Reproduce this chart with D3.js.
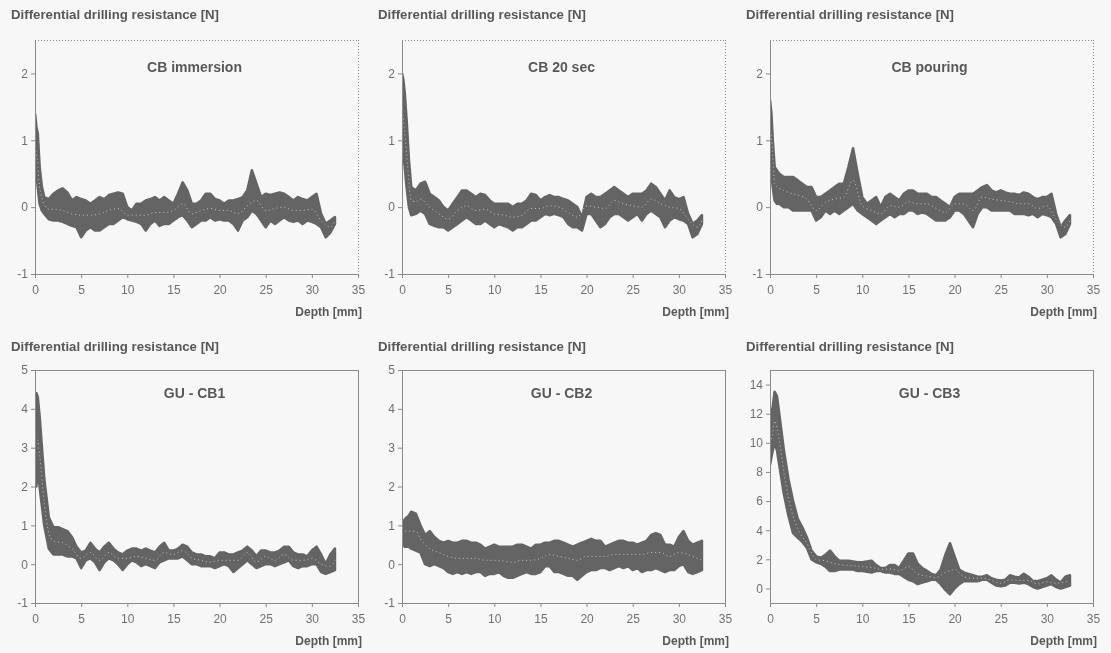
<!DOCTYPE html>
<html>
<head>
<meta charset="utf-8">
<script src="https://cdn.jsdelivr.net/npm/d3@7"></script>
<style>
  html, body { margin: 0; padding: 0; background: #f7f7f7; }
  svg { display: block; font-family: "Liberation Sans", Arial, sans-serif; will-change: transform; -webkit-font-smoothing: antialiased; }
</style>
</head>
<body>
<svg id="chart" width="1111" height="653"></svg>
<script>
// ---------- DATA ----------
const depth = [0,0.15,0.3,0.5,0.75,1,1.5,2,2.5,3,3.5,4,4.5,5,5.5,6,6.5,7,7.5,8,8.5,9,9.5,10,10.5,11,11.5,12,12.5,13,13.5,14,14.5,15,15.5,16,16.5,17,17.5,18,18.5,19,19.5,20,20.5,21,21.5,22,22.5,23,23.5,24,24.5,25,25.5,26,26.5,27,27.5,28,28.5,29,29.5,30,30.5,31,31.5,32,32.5];

const cbImmersionUpper = [1.4,1.2,1.1,0.6,0.3,0.15,0.12,0.2,0.25,0.28,0.22,0.1,0.15,0.12,0.1,0.05,0.1,0.15,0.12,0.18,0.2,0.22,0.2,0.0,-0.05,0.05,0.05,0.1,0.12,0.15,0.1,0.15,0.1,0.05,0.2,0.37,0.25,0.05,0.05,0.1,0.2,0.2,0.12,0.1,0.05,0.1,0.1,0.12,0.15,0.25,0.55,0.35,0.15,0.2,0.18,0.2,0.22,0.2,0.15,0.1,0.15,0.12,0.1,0.15,0.2,-0.1,-0.25,-0.2,-0.15];
const cbImmersionLower = [0.6,0.5,0.3,0.05,-0.05,-0.1,-0.18,-0.2,-0.2,-0.22,-0.25,-0.28,-0.3,-0.45,-0.35,-0.3,-0.35,-0.35,-0.3,-0.25,-0.25,-0.2,-0.15,-0.18,-0.2,-0.22,-0.25,-0.35,-0.25,-0.2,-0.28,-0.25,-0.25,-0.2,-0.15,-0.12,-0.2,-0.3,-0.25,-0.2,-0.2,-0.15,-0.2,-0.18,-0.2,-0.2,-0.25,-0.35,-0.2,-0.15,-0.05,-0.1,-0.2,-0.3,-0.2,-0.25,-0.2,-0.15,-0.2,-0.22,-0.2,-0.25,-0.2,-0.22,-0.25,-0.3,-0.45,-0.38,-0.25];

const cb20secUpper = [2.0,1.9,1.7,1.3,0.7,0.3,0.25,0.35,0.38,0.2,0.15,0.1,0.0,-0.05,0.05,0.15,0.25,0.25,0.2,0.15,0.2,0.18,0.1,0.05,0.05,0.05,0.05,0.0,0.05,0.05,0.1,0.2,0.18,0.1,0.15,0.18,0.15,0.15,0.12,0.1,0.05,0.0,-0.15,0.15,0.2,0.15,0.15,0.2,0.25,0.3,0.25,0.2,0.15,0.2,0.2,0.2,0.25,0.35,0.3,0.2,0.1,0.25,0.15,0.12,0.15,-0.1,-0.25,-0.2,-0.12];
const cb20secLower = [1.0,0.8,0.6,0.3,0.0,-0.12,-0.1,-0.05,-0.1,-0.25,-0.28,-0.3,-0.3,-0.35,-0.3,-0.25,-0.2,-0.15,-0.2,-0.25,-0.25,-0.2,-0.25,-0.3,-0.25,-0.28,-0.3,-0.35,-0.3,-0.3,-0.25,-0.2,-0.2,-0.15,-0.1,-0.12,-0.1,-0.12,-0.15,-0.25,-0.3,-0.3,-0.35,-0.1,-0.1,-0.2,-0.3,-0.25,-0.15,-0.1,-0.1,-0.15,-0.2,-0.15,-0.1,-0.2,-0.1,-0.05,-0.1,-0.15,-0.3,-0.2,-0.15,-0.18,-0.2,-0.25,-0.45,-0.4,-0.25];

const cbPouringUpper = [1.6,1.4,1.0,0.6,0.55,0.5,0.45,0.45,0.45,0.4,0.35,0.3,0.3,0.15,0.15,0.2,0.25,0.3,0.35,0.35,0.6,0.88,0.5,0.15,0.05,0.1,0.15,0.0,0.15,0.2,0.15,0.1,0.2,0.25,0.25,0.2,0.2,0.2,0.15,0.15,0.1,0.05,0.0,0.15,0.2,0.2,0.2,0.2,0.25,0.3,0.33,0.25,0.22,0.25,0.22,0.2,0.2,0.18,0.22,0.2,0.15,0.12,0.15,0.15,0.2,-0.1,-0.3,-0.2,-0.12];
const cbPouringLower = [0.8,0.5,0.3,0.1,0.05,0.05,0.0,0.0,-0.05,-0.05,-0.05,-0.05,-0.05,-0.2,-0.15,-0.05,-0.1,-0.05,-0.1,-0.05,0.0,0.05,-0.05,-0.1,-0.15,-0.2,-0.25,-0.2,-0.15,-0.1,-0.15,-0.1,-0.1,-0.05,-0.05,-0.1,-0.08,-0.1,-0.15,-0.2,-0.2,-0.2,-0.15,-0.05,-0.05,-0.1,-0.2,-0.3,-0.1,0.0,0.0,-0.05,-0.05,-0.05,-0.05,-0.05,-0.1,-0.1,-0.1,-0.12,-0.1,-0.15,-0.1,-0.12,-0.15,-0.25,-0.45,-0.4,-0.25];

const guCb1Upper = [4.3,4.4,4.3,3.8,3.0,2.2,1.2,0.95,0.95,0.9,0.85,0.7,0.45,0.3,0.35,0.55,0.4,0.3,0.45,0.55,0.4,0.3,0.25,0.35,0.4,0.4,0.35,0.4,0.35,0.3,0.45,0.55,0.35,0.35,0.4,0.5,0.45,0.3,0.25,0.25,0.2,0.2,0.15,0.3,0.3,0.25,0.25,0.3,0.35,0.45,0.35,0.2,0.35,0.35,0.3,0.3,0.35,0.45,0.45,0.3,0.25,0.25,0.2,0.35,0.45,0.25,0.0,0.25,0.4];
const guCb1Lower = [2.0,2.0,2.5,2.0,1.5,1.0,0.4,0.25,0.25,0.25,0.2,0.2,0.15,-0.1,0.1,0.15,0.05,-0.15,0.05,0.15,0.1,0.0,-0.15,0.0,0.1,0.05,-0.05,0.0,-0.05,-0.1,0.05,0.1,0.15,0.15,0.15,0.2,0.1,0.0,0.0,-0.05,-0.05,-0.05,-0.1,-0.05,0.0,-0.05,-0.2,-0.1,0.0,0.1,0.0,-0.1,-0.05,0.0,0.0,-0.05,0.0,0.05,0.1,-0.05,-0.1,-0.05,-0.05,0.0,0.0,-0.2,-0.25,-0.2,-0.15];

const guCb2Upper = [1.0,1.1,1.15,1.2,1.25,1.35,1.3,1.0,0.75,0.85,0.7,0.6,0.55,0.6,0.55,0.55,0.6,0.6,0.55,0.55,0.5,0.4,0.45,0.5,0.45,0.45,0.45,0.45,0.5,0.5,0.45,0.4,0.5,0.5,0.55,0.55,0.6,0.6,0.55,0.5,0.45,0.5,0.55,0.6,0.65,0.6,0.6,0.45,0.5,0.55,0.6,0.6,0.55,0.55,0.5,0.55,0.6,0.75,0.8,0.75,0.5,0.5,0.45,0.7,0.85,0.6,0.5,0.55,0.6];
const guCb2Lower = [0.5,0.5,0.45,0.45,0.45,0.4,0.35,0.3,0.0,-0.05,0.0,-0.05,-0.1,-0.2,-0.25,-0.2,-0.25,-0.2,-0.25,-0.2,-0.2,-0.3,-0.25,-0.25,-0.2,-0.3,-0.35,-0.35,-0.3,-0.25,-0.2,-0.25,-0.25,-0.2,-0.05,-0.05,-0.2,-0.2,-0.25,-0.3,-0.3,-0.4,-0.3,-0.2,-0.15,-0.15,-0.1,-0.1,-0.15,-0.1,-0.05,-0.1,-0.05,-0.15,-0.1,-0.2,-0.15,-0.15,-0.1,-0.15,-0.2,-0.15,-0.15,-0.05,0.0,-0.2,-0.25,-0.2,-0.15];

const guCb3Upper = [11.5,12,12.5,13.5,13.2,12,9.5,7.5,6.0,4.8,4.2,3.5,2.6,2.2,2.1,2.3,2.6,2.2,1.9,1.9,1.9,1.85,1.8,1.8,1.85,1.9,1.6,1.4,1.4,1.6,1.6,1.4,1.9,2.4,2.4,1.7,1.4,1.2,1.0,0.9,1.3,2.3,3.1,2.2,1.3,1.1,1.0,0.9,0.8,0.8,0.9,0.7,0.6,0.55,0.6,0.9,0.8,0.75,1.0,0.8,0.5,0.5,0.6,0.7,0.9,0.6,0.4,0.8,0.9];
const guCb3Lower = [8.5,9,9.5,10,9.5,8.5,6.5,5.0,3.8,3.5,3.2,2.8,2.0,1.8,1.7,1.5,1.2,1.2,1.3,1.3,1.3,1.3,1.2,1.2,1.15,1.1,1.2,1.2,1.1,1.1,1.0,1.0,0.8,0.6,0.5,0.3,0.4,0.5,0.6,0.6,0.3,-0.1,-0.4,0.0,0.3,0.5,0.5,0.5,0.5,0.6,0.6,0.4,0.2,0.15,0.2,0.4,0.4,0.35,0.4,0.3,0.1,0.0,0.1,0.2,0.3,0.1,0.0,0.1,0.2];

const meanDepth = [0,0.25,0.5,1,1.5,2,3,4,5,6,7,8,9,10,11,12,13,14,15,16,17,18,19,20,21,22,23,24,25,26,27,28,29,30,31,32,32.5];
const cbImmersionMean = [0.9,0.7,0.3,0.05,-0.03,-0.03,-0.05,-0.1,-0.12,-0.12,-0.1,-0.05,-0.02,-0.12,-0.12,-0.12,-0.08,-0.08,-0.05,0.05,-0.1,-0.05,-0.02,-0.05,-0.05,-0.1,0.02,0.1,-0.05,-0.02,0.0,-0.05,-0.05,-0.03,-0.2,-0.3,-0.2];
const cb20secMean = [1.5,1.2,0.8,0.1,0.08,0.12,0.0,-0.1,-0.18,-0.05,0.02,-0.05,-0.03,-0.1,-0.12,-0.15,-0.12,-0.02,-0.02,0.02,0.0,-0.08,-0.15,0.02,0.0,-0.02,0.1,0.05,0.02,0.0,0.12,0.05,0.0,-0.02,-0.18,-0.3,-0.2];
const cbPouringMean = [1.2,0.9,0.35,0.28,0.25,0.22,0.18,0.12,-0.05,0.07,0.12,0.15,0.4,0.02,-0.05,-0.1,0.02,0.0,0.08,0.05,0.05,-0.02,-0.08,0.05,0.05,-0.05,0.15,0.12,0.1,0.08,0.05,0.05,-0.02,0.02,-0.18,-0.3,-0.2];
const guCb1Mean = [3.0,3.2,2.8,1.6,0.8,0.6,0.55,0.4,0.15,0.3,0.1,0.3,0.15,0.15,0.2,0.15,0.1,0.3,0.25,0.35,0.15,0.1,0.05,0.1,0.1,0.1,0.3,0.05,0.2,0.1,0.25,0.1,0.1,0.15,0.0,-0.05,0.1];
const guCb2Mean = [0.8,0.85,0.85,0.85,0.85,0.65,0.4,0.3,0.2,0.15,0.15,0.15,0.1,0.1,0.08,0.05,0.1,0.1,0.15,0.25,0.2,0.15,0.1,0.2,0.2,0.2,0.25,0.25,0.25,0.25,0.3,0.3,0.2,0.3,0.25,0.15,0.1];
const guCb3Mean = [10,10.5,11.5,10.2,8,6.2,4.1,3.1,2.0,1.9,1.7,1.6,1.55,1.5,1.45,1.3,1.35,1.2,1.5,1.0,0.85,0.75,1.1,1.3,0.8,0.7,0.7,0.55,0.35,0.6,0.55,0.55,0.3,0.45,0.35,0.45,0.5];

const panelTitles = ["CB immersion", "CB 20 sec", "CB pouring", "GU - CB1", "GU - CB2", "GU - CB3"];
const xTicks = [0,5,10,15,20,25,30,35];
const yTicksTop = [-1,0,1,2];
const yTicksBottom = [-1,0,1,2,3,4,5];
const yTicksCB3 = [0,2,4,6,8,10,12,14];
const yAxisTitle = "Differential drilling resistance [N]";
const xAxisTitle = "Depth [mm]";

// ---------- LAYOUT ----------
const svg = d3.select("#chart");
svg.append("rect").attr("width", 1111).attr("height", 653).attr("fill", "#f7f7f7");

const colLeft = [35, 402, 770];
const plotW = 323;
const rowTop = [40, 370];
const plotH = [234, 233];

const panels = [
  {title: panelTitles[0], upper: cbImmersionUpper, lower: cbImmersionLower, mean: cbImmersionMean, dom: [-1, 2.5], ticks: yTicksTop, row: 0, col: 0},
  {title: panelTitles[1], upper: cb20secUpper, lower: cb20secLower, mean: cb20secMean, dom: [-1, 2.5], ticks: yTicksTop, row: 0, col: 1},
  {title: panelTitles[2], upper: cbPouringUpper, lower: cbPouringLower, mean: cbPouringMean, dom: [-1, 2.5], ticks: yTicksTop, row: 0, col: 2},
  {title: panelTitles[3], upper: guCb1Upper, lower: guCb1Lower, mean: guCb1Mean, dom: [-1, 5], ticks: yTicksBottom, row: 1, col: 0},
  {title: panelTitles[4], upper: guCb2Upper, lower: guCb2Lower, mean: guCb2Mean, dom: [-1, 5], ticks: yTicksBottom, row: 1, col: 1},
  {title: panelTitles[5], upper: guCb3Upper, lower: guCb3Lower, mean: guCb3Mean, dom: [-1, 15], ticks: yTicksCB3, row: 1, col: 2}
];

const textCol = "#585858";
const axisCol = "#8a8a8a";

panels.forEach((p, i) => {
  const left = colLeft[p.col], top = rowTop[p.row], h = plotH[p.row];
  const g = svg.append("g").attr("transform", `translate(${left},${top})`);
  const x = d3.scaleLinear().domain([0, 35]).range([0, plotW]);
  const y = d3.scaleLinear().domain(p.dom).range([h, 0]);

  g.append("rect").attr("width", plotW).attr("height", h).attr("fill", "#f7f7f7");

  const clipId = "clip" + i;
  g.append("clipPath").attr("id", clipId).append("rect").attr("width", plotW).attr("height", h);

  // band
  const band = depth.map((d, k) => ({d, lo: p.lower[k], hi: p.upper[k]}));
  const area = d3.area().x(d => x(d.d)).y0(d => y(d.lo)).y1(d => y(d.hi));
  g.append("path").datum(band).attr("d", area)
    .attr("fill", "#646464").attr("stroke", "#646464").attr("stroke-width", 2.6)
    .attr("stroke-linejoin", "round")
    .attr("clip-path", `url(#${clipId})`);

  // mean line (white dotted)
  const meanPts = meanDepth.map((d, k) => ({d, v: p.mean[k]}));
  const line = d3.line().x(d => x(d.d)).y(d => y(d.v)).curve(d3.curveMonotoneX);
  g.append("path").datum(meanPts).attr("d", line)
    .attr("fill", "none").attr("stroke", "#fff").attr("stroke-width", 1)
    .attr("stroke-dasharray", "1,3").attr("opacity", 0.6)
    .attr("clip-path", `url(#${clipId})`);

  // frame: top & right
  const dash = p.row === 0 ? "1,2" : null;
  g.append("line").attr("x1", 0).attr("x2", plotW).attr("y1", 0.5).attr("y2", 0.5)
    .attr("stroke", axisCol).attr("stroke-dasharray", dash);
  g.append("line").attr("x1", plotW + 0.5).attr("x2", plotW + 0.5).attr("y1", 0).attr("y2", h)
    .attr("stroke", axisCol).attr("stroke-dasharray", dash);

  // axes
  const ya = g.append("g").call(d3.axisLeft(y).tickValues(p.ticks).tickSize(4).tickSizeOuter(0).tickFormat(d => String(d)));
  const xa = g.append("g").attr("transform", `translate(0,${h})`)
    .call(d3.axisBottom(x).tickValues(xTicks).tickSize(4).tickSizeOuter(0).tickFormat(d => String(d)));
  [ya, xa].forEach(a => {
    a.select(".domain").attr("stroke", axisCol);
    a.selectAll(".tick line").attr("stroke", axisCol);
    a.selectAll(".tick text").attr("fill", "#707070").attr("font-size", 12)
      .attr("font-family", "Liberation Sans, Arial, sans-serif");
  });
  ya.selectAll(".tick text").attr("x", -7);
  xa.selectAll(".tick text").attr("y", 11);

  // panel title
  g.append("text").attr("x", plotW / 2 - 2).attr("y", p.row === 0 ? 32 : 28)
    .attr("text-anchor", "middle").attr("font-size", 14).attr("font-weight", "bold")
    .attr("fill", textCol).text(p.title);

  // y axis title
  svg.append("text").attr("x", left - 24).attr("y", top - (p.row === 0 ? 21 : 19))
    .attr("font-size", 12).attr("fill", textCol).attr("font-weight", "bold")
    .attr("textLength", 208).attr("lengthAdjust", "spacingAndGlyphs")
    .text(yAxisTitle);

  // x axis title
  svg.append("text").attr("x", left + plotW + 4).attr("y", top + h + 42)
    .attr("text-anchor", "end").attr("font-size", 12).attr("fill", textCol).attr("font-weight", "bold")
    .text(xAxisTitle);
});
</script>
</body>
</html>
